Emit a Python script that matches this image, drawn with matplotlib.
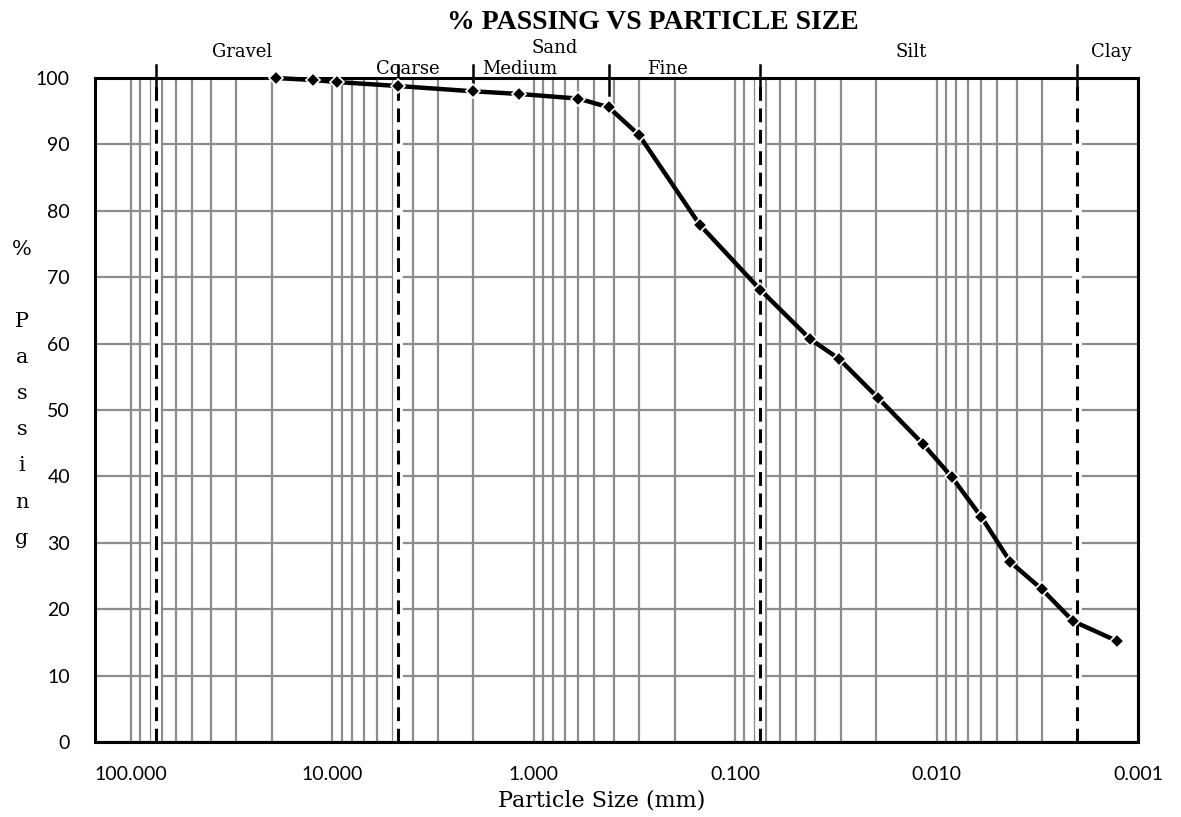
import numpy as np
import matplotlib.pyplot as plt
from matplotlib.ticker import LogLocator, FixedLocator, NullFormatter

# Sieve + hydrometer results
size_mm = [19.0, 12.5, 9.5, 4.75, 2.0, 1.18, 0.60, 0.425, 0.30, 0.15, 0.075,
           0.0425, 0.0305, 0.0195, 0.0117, 0.0084, 0.0060, 0.0043, 0.0030, 0.0021, 0.00127]
pct_passing = [100.0, 99.7, 99.4, 98.8, 98.0, 97.6, 96.9, 95.6, 91.4, 77.9, 68.1,
               60.7, 57.7, 51.8, 44.9, 39.9, 33.9, 27.1, 23.0, 18.2, 15.2]

# Soil class boundaries (mm)
dashed_bounds = [75.0, 4.75, 0.075, 0.002]
tick_bounds = [75.0, 4.75, 2.0, 0.425, 0.075, 0.002]
zone_names = ['Gravel', 'Sand', 'Coarse', 'Medium', 'Fine', 'Silt', 'Clay']
zone_x = [28.0, 0.785, 4.2, 1.17, 0.216, 0.0133, 0.00136]
zone_y = [103.9, 104.5, 101.3, 101.3, 101.3, 103.9, 103.9]

major_x = [100, 10, 1, 0.1, 0.01, 0.001]
serif = 'DejaVu Serif'
sans = 'Lato'

fig = plt.figure(figsize=(11.81, 8.17), dpi=100)
ax = fig.add_axes([0.0804, 0.0918, 0.8832, 0.8127])

ax.set_xscale('log')
ax.set_xlim(151, 0.001)
ax.set_ylim(0, 100)

ax.xaxis.set_major_locator(FixedLocator(major_x))
ax.set_xticklabels(['%.3f' % v for v in major_x], fontfamily=sans, fontsize=14)
ax.xaxis.set_minor_locator(LogLocator(base=10, subs=np.arange(2, 10)))
ax.xaxis.set_minor_formatter(NullFormatter())
ax.set_yticks(np.arange(0, 101, 10))
ax.set_yticklabels([str(v) for v in range(0, 101, 10)], fontfamily=sans, fontsize=14)
ax.tick_params(axis='both', which='both', length=0)
ax.tick_params(axis='x', pad=17)
ax.tick_params(axis='y', pad=18)

ax.grid(True, which='both', axis='x', color='#8c8c8c', lw=1.6, zorder=0)
ax.grid(True, which='major', axis='y', color='#8c8c8c', lw=1.6, zorder=0)
ax.set_axisbelow(True)
for s in ax.spines.values():
    s.set_linewidth(2.2)
    s.set_color('black')

# class boundaries: dashed line on a white band
for b in dashed_bounds:
    ax.axvline(b, color='white', lw=7, zorder=1)
    ax.axvline(b, color='black', lw=2.2, ls=(0, (4.5, 2.5)), zorder=2)
for b in tick_bounds:
    ax.plot([b, b], [102, 97.5], color='black', lw=1.8, clip_on=False, zorder=5)

for name, xv, yv in zip(zone_names, zone_x, zone_y):
    ax.text(xv, yv, name, ha='center', va='center', fontfamily=serif,
            fontsize=13, clip_on=False)

ax.plot(size_mm, pct_passing, color='black', lw=3.2, marker='D', ms=7.5,
        mfc='black', mec='white', mew=1.2, zorder=6, clip_on=False)

ax.set_xlabel('Particle Size (mm)', fontfamily=serif, fontsize=16)
ax.xaxis.set_label_coords(0.486, -0.072)
fig.text(0.5525, 0.972, '% PASSING VS PARTICLE SIZE', ha='center', va='center',
         fontfamily='Liberation Serif', fontweight='bold', fontsize=20)
fig.text(0.0186, 0.518, '%\n\nP\na\ns\ns\ni\nn\ng', ha='center', va='center',
         fontfamily=serif, fontsize=15, linespacing=2.14)

fig.savefig('out.png', dpi=100)
